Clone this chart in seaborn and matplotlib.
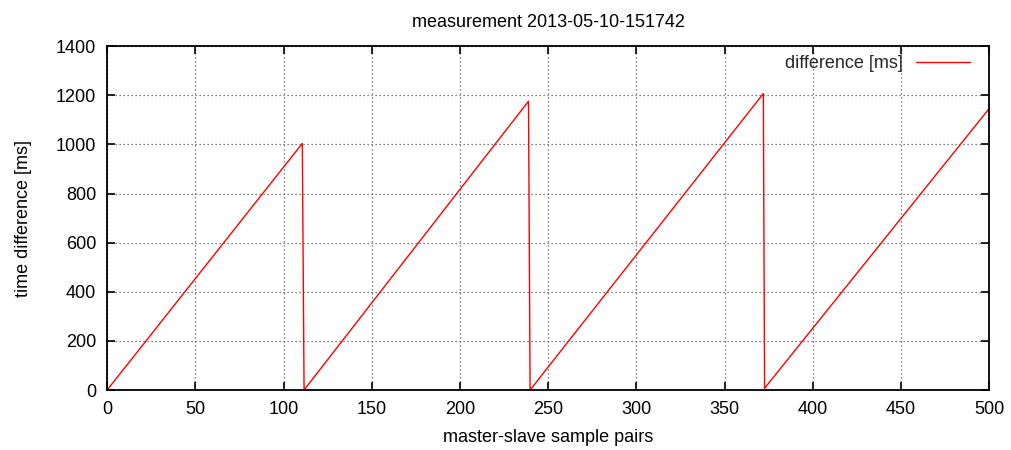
import matplotlib
matplotlib.use("Agg")
import matplotlib.pyplot as plt
import seaborn as sns
import pandas as pd

# Data (sample index, time difference in ms):
# start and peak of each sawtooth ramp
sample_pairs = [0, 110.6,
                111.6, 238.8,
                239.7, 371.9,
                372.6, 500]
difference_ms = [0, 1004,
                 0, 1176,
                 0, 1207,
                 7, 1147]
x_ticks = [0, 50, 100, 150, 200, 250, 300, 350, 400, 450, 500]
y_ticks = [0, 200, 400, 600, 800, 1000, 1200, 1400]

title = "measurement 2013-05-10-151742"
x_label = "master-slave sample pairs"
y_label = "time difference [ms]"
series_name = "difference [ms]"

sns.set_theme(style="white")
plt.rcParams["font.family"] = ["Liberation Sans", "DejaVu Sans"]

df = pd.DataFrame({"x": sample_pairs, "y": difference_ms})

fig = plt.figure(figsize=(10.11, 4.5), dpi=100)
ax = fig.add_axes([0.106, 0.1333, 0.8726, 0.764])

sns.lineplot(data=df, x="x", y="y", ax=ax, color="#ff0000", linewidth=1.0,
             sort=False, label=series_name, estimator=None)

ax.set_xlim(0, 500)
ax.set_ylim(0, 1400)
ax.set_xticks(x_ticks)
ax.set_yticks(y_ticks)
ax.grid(True, color="#555555", linestyle=(0, (1, 2.2)), linewidth=0.9)
for s in ax.spines.values():
    s.set_color("black")
    s.set_linewidth(1.3)
ax.tick_params(axis="both", which="major", direction="in", length=6, width=1.2,
               color="black", labelsize=13, labelcolor="black",
               top=True, right=True, bottom=True, left=True, pad=8)

ax.set_xlabel(x_label, fontsize=13, color="black", labelpad=8)
ax.set_ylabel(y_label, fontsize=13, color="black", labelpad=17)
ax.set_title(title, fontsize=13, color="black", pad=14)

leg = ax.legend(loc="upper right", bbox_to_anchor=(0.992, 1.01), frameon=False,
                markerfirst=False, fontsize=13, handlelength=3.0,
                handletextpad=0.7, borderaxespad=0.3)

fig.savefig("out.png", dpi=100, facecolor="white")
